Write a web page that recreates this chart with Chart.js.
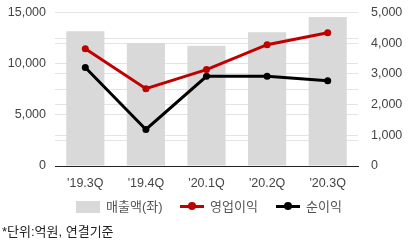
<!DOCTYPE html>
<html>
<head>
<meta charset="utf-8">
<script src="https://cdn.jsdelivr.net/npm/chart.js@4"></script>
<style>
  html, body { margin: 0; padding: 0; background: #fff; }
  #wrap { position: relative; width: 414px; height: 240px; overflow: hidden; font-family: "Liberation Sans", Arial, "Noto Sans CJK KR", sans-serif; }
  #chart { position: absolute; left: 0; top: -8px; }
  #legend { position: absolute; left: 0; top: 199px; width: 414px; height: 16px; font-size: 13px; color: #555; }
  .item { position: absolute; top: 0; height: 16px; line-height: 16px; }
  .box { position: absolute; left: 0; top: 2px; width: 24px; height: 12px; background: #d9d9d9; }
  .ln { position: absolute; left: 0; top: 6px; width: 24px; height: 3px; }
  .dot { position: absolute; left: 8px; top: 3px; width: 8px; height: 8px; border-radius: 50%; }
  .lbl { position: absolute; left: 30px; top: 0; white-space: nowrap; }
  #note { position: absolute; left: 2px; top: 221px; font-size: 13px; color: #222; }
</style>
</head>
<body>
<div id="wrap">
  <canvas id="chart" width="414" height="248"></canvas>
  <div id="legend"></div>
  <div id="note">*단위:억원, 연결기준</div>
</div>
<script>
// ----------------- Data -----------------
const quarters = ["'19.3Q", "'19.4Q", "'20.1Q", "'20.2Q", "'20.3Q"];
const revenue = [13170, 12020, 11760, 13080, 14550];
const opProfit = [3820, 2520, 3140, 3950, 4340];
const netProfit = [3210, 1190, 2920, 2920, 2780];
const seriesNames = ['매출액(좌)', '영업이익', '순이익'];

const gray = '#d9d9d9';
const red = '#c00000';
const black = '#000000';
const tickFont = { size: 12.5, family: 'Liberation Sans' };

// ----------------- Chart -----------------
const ctx = document.getElementById('chart').getContext('2d');
new Chart(ctx, {
    data: {
        labels: quarters,
        datasets: [
            {
                type: 'bar',
                label: seriesNames[0],
                data: revenue,
                backgroundColor: gray,
                yAxisID: 'y',
                categoryPercentage: 0.63,
                barPercentage: 1,
                order: 3
            },
            {
                type: 'line',
                label: seriesNames[1],
                data: opProfit,
                borderColor: red,
                backgroundColor: red,
                borderWidth: 3,
                pointRadius: 3.5,
                pointBackgroundColor: red,
                pointBorderWidth: 0,
                yAxisID: 'y1',
                order: 2
            },
            {
                type: 'line',
                label: seriesNames[2],
                data: netProfit,
                borderColor: black,
                backgroundColor: black,
                borderWidth: 3,
                pointRadius: 3.5,
                pointBackgroundColor: black,
                pointBorderWidth: 0,
                yAxisID: 'y1',
                order: 1
            }
        ]
    },
    options: {
        responsive: false,
        animation: false,
        layout: { padding: 0 },
        plugins: {
            legend: { display: false },
            tooltip: { enabled: false }
        },
        scales: {
            x: {
                grid: { display: false },
                border: { display: true, color: '#222', width: 1 },
                ticks: { color: '#444', font: tickFont, padding: 2 },
                afterFit: s => { s.height = 74; }
            },
            y: {
                position: 'left',
                min: 0,
                max: 15000,
                border: { display: false },
                grid: { color: '#e3e3e3', drawTicks: false },
                ticks: {
                    stepSize: 2500,
                    color: '#444',
                    padding: 9,
                    font: tickFont,
                    callback: v => (v % 5000 === 0 ? v.toLocaleString('en-US') : '')
                },
                afterFit: s => { s.width = 55; }
            },
            y1: {
                position: 'right',
                min: 0,
                max: 5000,
                border: { display: false },
                grid: { color: '#e3e3e3', drawTicks: false },
                ticks: {
                    stepSize: 1000,
                    color: '#444',
                    padding: 13,
                    font: tickFont,
                    callback: v => v.toLocaleString('en-US')
                },
                afterFit: s => { s.width = 56; }
            }
        }
    }
});

// ----------------- Legend -----------------
const legend = document.getElementById('legend');
const legendItems = [
    { name: seriesNames[0], kind: 'box', color: gray, left: 76 },
    { name: seriesNames[1], kind: 'line', color: red, left: 180 },
    { name: seriesNames[2], kind: 'line', color: black, left: 276 }
];
legendItems.forEach(it => {
    const div = document.createElement('div');
    div.className = 'item';
    div.style.left = it.left + 'px';
    if (it.kind === 'box') {
        div.innerHTML = `<span class="box"></span><span class="lbl">${it.name}</span>`;
    } else {
        div.innerHTML = `<span class="ln" style="background:${it.color}"></span>` +
            `<span class="dot" style="background:${it.color}"></span>` +
            `<span class="lbl">${it.name}</span>`;
    }
    legend.appendChild(div);
});
</script>
</body>
</html>
